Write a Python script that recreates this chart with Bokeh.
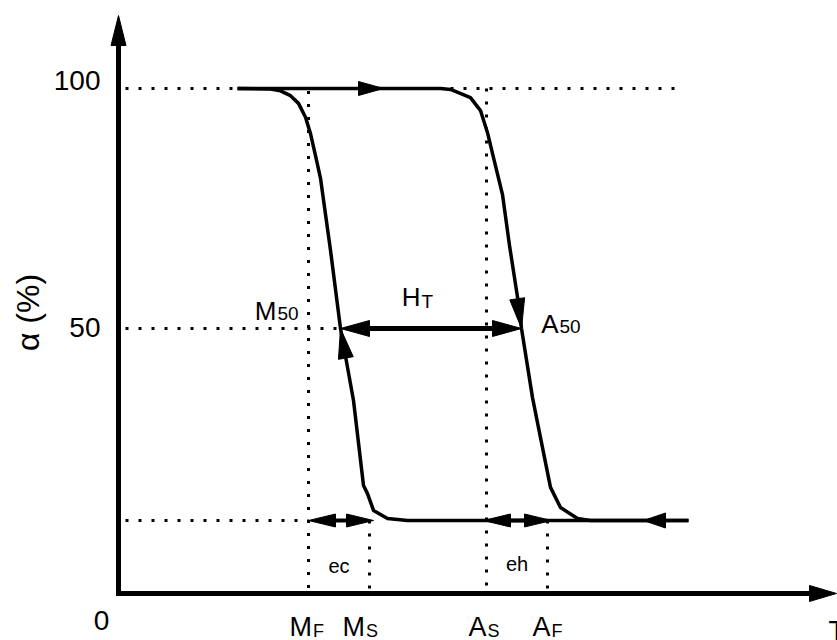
import math
from bokeh.plotting import figure
from bokeh.models import Range1d, ColumnDataSource
from bokeh.core.properties import value
from bokeh.embed import file_html
from bokeh.resources import INLINE

# ---------------- data ----------------
alpha_ticks = [100, 50]
alpha_tick_labels = ["100", "50"]
alpha_high = 100
alpha_mid = 50
alpha_low = 10

# characteristic temperatures (arbitrary temperature units)
T_MF, T_MS, T_AS, T_AF = 190, 251, 368, 429
T_M50, T_A50 = 222, 403

# cooling branch: lower plateau, then left transformation curve up to 100 %
cool_T = [570, 289, 269, 255, 249, 245, 235, 222, 212, 202, 197, 192, 187, 180, 172, 162, 152, 119]
cool_a = [10, 10, 10.4, 12.1, 15.6, 17.3, 35, 50, 66.3, 81.3, 86.0, 90.6, 94.0, 96.9, 98.5, 99.5, 99.9, 100]

# heating branch: upper plateau, then right transformation curve down to the lower plateau
heat_T = [119, 322, 332, 352, 362, 369, 375, 384, 391, 400, 403, 414, 424, 432, 442, 459, 472, 570]
heat_a = [100, 100, 99.8, 98.1, 95.4, 90.8, 85.6, 77.9, 67.3, 55.2, 50, 35.6, 25.2, 16.9, 12.7, 10.4, 10, 10]

# ---------------- layout ----------------
W, H = 837, 640
X0, X1 = -118, 719
Y0, Y1 = -15, 118.3333
PX_T = W / (X1 - X0)
PX_A = H / (Y1 - Y0)
axis_T = 0
axis_a = -5.2
y_tip = 115.2
x_tip = 718
FONT = value("Liberation Sans")
BLACK = "#000000"

p = figure(width=W, height=H, x_range=Range1d(X0, X1), y_range=Range1d(Y0, Y1),
           output_backend="svg", toolbar_location=None, title=None,
           x_axis_location=None, y_axis_location=None, min_border=0)
p.outline_line_color = None
p.background_fill_color = "white"
p.border_fill_color = "white"
p.xgrid.visible = False
p.ygrid.visible = False


def head(tx, ty, ux, uy, L, Wd):
    """triangle arrow head; direction (ux, uy) in screen pixels (y down)."""
    n = math.hypot(ux, uy)
    ux, uy = ux / n, uy / n
    bx, by = -ux * L, -uy * L
    nx, ny = -uy, ux
    pts = [(0, 0), (bx + nx * Wd / 2, by + ny * Wd / 2), (bx - nx * Wd / 2, by - ny * Wd / 2)]
    return [tx + q[0] / PX_T for q in pts], [ty - q[1] / PX_A for q in pts]


# dotted guide lines
dot_x = [[axis_T + 7, 557], [axis_T + 7, T_M50], [axis_T + 7, T_MF],
         [T_MF, T_MF], [T_MS, T_MS], [T_AS, T_AS], [T_AF, T_AF]]
dot_y = [[alpha_high, alpha_high], [alpha_mid, alpha_mid], [alpha_low, alpha_low],
         [alpha_high - 0.5, axis_a], [alpha_low, axis_a], [alpha_high, axis_a], [alpha_low, axis_a]]
p.multi_line(dot_x, dot_y, line_color=BLACK, line_width=3, line_dash="3 10")

# curves
p.line(cool_T, cool_a, line_color=BLACK, line_width=3.5, line_join="round")
p.line(heat_T, heat_a, line_color=BLACK, line_width=3.5, line_join="round")

# axes
p.line([axis_T, axis_T], [axis_a - 2.5 / PX_A, y_tip - 15 / PX_A], line_color=BLACK, line_width=5)
p.line([axis_T - 2.5 / PX_T, x_tip - 13 / PX_T], [axis_a, axis_a], line_color=BLACK, line_width=5)

# double arrows
segs_x = [[T_M50 + 14, T_A50 - 14], [T_MF + 14, T_MS + 4 - 13], [T_AS - 3 + 13, T_AF + 4 - 13]]
segs_y = [[alpha_mid, alpha_mid], [alpha_low, alpha_low], [alpha_low, alpha_low]]
p.multi_line(segs_x, segs_y, line_color=BLACK, line_width=[5, 4, 4])

heads = []
heads.append(head(axis_T, y_tip, 0, -1, 30, 15))
heads.append(head(x_tip, axis_a, 1, 0, 27, 16))
heads.append(head(265, alpha_high, 1, 0, 25, 14))
heads.append(head(T_A50, alpha_mid, (T_A50 - 391) * PX_T, (67.3 - alpha_mid) * PX_A, 30, 15))
heads.append(head(T_M50, alpha_mid, (T_M50 - 235) * PX_T, (35 - alpha_mid) * PX_A, 30, 15))
heads.append(head(T_M50, alpha_mid, -1, 0, 29, 16))
heads.append(head(T_A50, alpha_mid, 1, 0, 29, 16))
heads.append(head(525, alpha_low, -1, 0, 22, 15))
heads.append(head(T_MF, alpha_low, -1, 0, 27, 13))
heads.append(head(T_MS + 4, alpha_low, 1, 0, 27, 13))
heads.append(head(T_AS - 3, alpha_low, -1, 0, 27, 13))
heads.append(head(T_AF + 4, alpha_low, 1, 0, 27, 13))
p.patches([h[0] for h in heads], [h[1] for h in heads], fill_color=BLACK, line_color=BLACK, line_width=1)


def txt(xs, ys, texts, size, align, xo, yo, angle=0.0):
    src = ColumnDataSource(dict(x=xs, y=ys, text=texts, xo=xo, yo=yo))
    p.text(x="x", y="y", text="text", x_offset="xo", y_offset="yo", source=src,
           text_font=FONT, text_font_size=size, text_align=align,
           text_baseline="middle", text_color=BLACK, angle=angle)


# tick labels
txt([axis_T] * 2, alpha_ticks, alpha_tick_labels, "28px", "right", [-18, -18], [-7.5, -0.5])
txt([axis_T], [axis_a], ["0"], "28px", "center", [-17], [27])
txt([x_tip], [axis_a], ["T"], "28px", "left", [-8], [37])
# axis title
txt([axis_T - 91 / PX_T], [alpha_mid + 16 / PX_A], ["α (%)"], "32px", "center", [0], [0],
    angle=math.pi / 2)

# temperature labels with subscripts
txt([T_MF, T_MS, T_AS, T_AF], [axis_a] * 4, ["M", "M", "A", "A"], "27px", "right",
    [3.5, -4.5, 0, 3], [34] * 4)
txt([T_MF, T_MS, T_AS, T_AF], [axis_a] * 4, ["F", "S", "S", "F"], "18px", "left",
    [4.5, -3.5, 1, 4], [38] * 4)

HT_mid = (T_M50 + T_A50) / 2
txt([T_M50, HT_mid, T_A50], [alpha_mid] * 3, ["M", "H", "A"], "26px", "right",
    [-64, -10.5, 37], [-17, -31, -4])
txt([T_M50, HT_mid, T_A50], [alpha_mid] * 3, ["50", "T", "50"], "19px", "left",
    [-63, -9.5, 38], [-15, -27, -1.5])

txt([(T_MF + T_MS) / 2, (T_AS + T_AF) / 2], [alpha_low] * 2, ["ec", "eh"], "20px", "center",
    [0, 0], [45, 43])

open("out.html", "w").write(file_html(p, INLINE))
